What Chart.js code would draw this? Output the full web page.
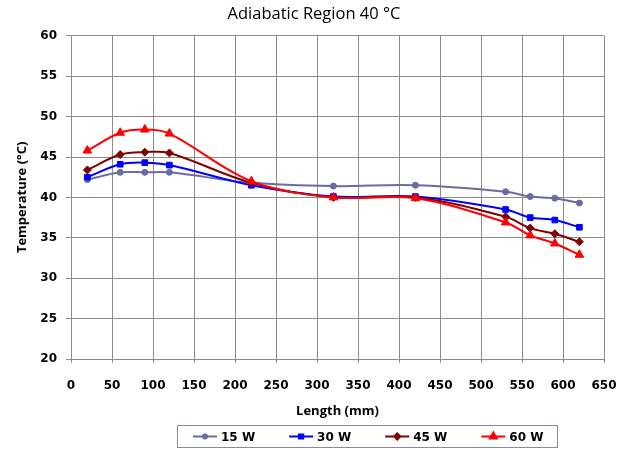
<!DOCTYPE html>
<html>
<head>
<meta charset="utf-8">
<script src="https://cdn.jsdelivr.net/npm/chart.js@4/dist/chart.umd.min.js"></script>
<style>
  html, body { margin: 0; padding: 0; background: #fff; }
  #wrap { width: 630px; height: 450px; }
</style>
</head>
<body>
<div id="wrap"><canvas id="tempChart" width="630" height="450"></canvas></div>
<script>
// positions along the heat pipe (mm)
const lengths = [20, 60, 90, 120, 220, 320, 420, 530, 560, 590, 620];

// temperature readings (°C) for each heater power
const temp15W = [42.2, 43.1, 43.1, 43.1, 41.8, 41.4, 41.5, 40.7, 40.1, 39.9, 39.3];
const temp30W = [42.5, 44.1, 44.3, 44.0, 41.5, 40.1, 40.1, 38.5, 37.5, 37.2, 36.3];
const temp45W = [43.4, 45.3, 45.6, 45.5, 41.8, 40.0, 40.0, 37.6, 36.2, 35.5, 34.5];
const temp60W = [45.8, 48.0, 48.4, 47.9, 42.0, 40.0, 39.9, 36.9, 35.3, 34.3, 32.9];

const seriesNames = ["15 W", "30 W", "45 W", "60 W"];

const TICK_FONT = "'DejaVu Sans', Verdana, sans-serif";
const TEXT_FONT = "'Open Sans', 'DejaVu Sans', sans-serif";

function pts(ys) {
  return lengths.map((x, i) => ({ x: x, y: ys[i] }));
}

const styles = [
  { color: "#6b6ba3", point: "circle", r: 3, order: 4 },
  { color: "#0000ff", point: "rect", r: 4, order: 3 },
  { color: "#800000", point: "rectRot", r: 4, order: 2 },
  { color: "#ff0000", point: "triangle", r: 5, order: 1 }
];
const allTemps = [temp15W, temp30W, temp45W, temp60W];

const datasets = allTemps.map((t, i) => ({
  label: seriesNames[i],
  data: pts(t),
  borderColor: styles[i].color,
  backgroundColor: styles[i].color,
  borderWidth: 2,
  pointStyle: styles[i].point,
  pointRadius: styles[i].r,
  pointBorderWidth: 1,
  tension: 0.35,
  order: styles[i].order
}));

// title sits centred over the plot rather than the whole canvas
const titleShift = {
  id: "titleShift",
  afterLayout(chart) {
    const t = chart.titleBlock;
    if (t) { t.left += 12; t.right += 12; }
  }
};

// boxed legend row under the axis title: line + marker, then the label
const boxedLegend = {
  id: "boxedLegend",
  afterDraw(chart) {
    const ctx = chart.ctx;
    const top = 425, bottom = 447, midY = 436.5;
    ctx.save();
    ctx.font = "bold 12px " + TICK_FONT;
    ctx.textBaseline = "middle";
    let x = 193;
    chart.data.datasets.forEach((ds, i) => {
      const st = styles[i];
      ctx.strokeStyle = st.color;
      ctx.fillStyle = st.color;
      ctx.lineWidth = 2;
      ctx.beginPath(); ctx.moveTo(x, midY); ctx.lineTo(x + 24, midY); ctx.stroke();
      Chart.helpers.drawPoint(ctx, { pointStyle: st.point, radius: st.r - 1, borderWidth: 1 }, x + 12, midY);
      ctx.fillStyle = "#000";
      ctx.fillText(ds.label, x + 28, midY + 1);
      x += 28 + ctx.measureText(ds.label).width + 34;
    });
    ctx.strokeStyle = "#8a8aa0";
    ctx.lineWidth = 1;
    ctx.strokeRect(177.5, top + 0.5, 380, bottom - top);
    ctx.restore();
  }
};

new Chart(document.getElementById("tempChart"), {
  type: "line",
  data: { datasets: datasets },
  options: {
    responsive: false,
    animation: false,
    layout: { padding: { left: 0, right: 26, top: 0, bottom: 29 } },
    plugins: {
      title: {
        display: true,
        text: "Adiabatic Region 40 °C",
        color: "#000",
        font: { family: TEXT_FONT, size: 16.5, weight: "normal", lineHeight: 1.2 },
        padding: { top: 4, bottom: 12 }
      },
      legend: { display: false },
      tooltip: { enabled: false }
    },
    scales: {
      x: {
        type: "linear",
        min: 0, max: 650,
        ticks: { stepSize: 50, color: "#000", font: { family: TICK_FONT, size: 12, weight: "bold" }, padding: 16 },
        grid: { color: "#8c8c8c", lineWidth: 1, tickLength: 4 },
        border: { color: "#8c8c8c" },
        title: { display: true, text: "Length (mm)", color: "#000", font: { family: TEXT_FONT, size: 13, weight: "bold" }, padding: { top: 4, bottom: 2 } },
        afterFit(s) { s.height = 62; s.paddingLeft = 0; s.paddingRight = 0; }
      },
      y: {
        min: 20, max: 60,
        ticks: { stepSize: 5, color: "#000", font: { family: TICK_FONT, size: 12, weight: "bold" }, padding: 9 },
        grid: { color: "#8c8c8c", lineWidth: 1, tickLength: 5 },
        border: { color: "#8c8c8c" },
        title: { display: true, text: "Temperature (°C)", color: "#000", font: { family: TEXT_FONT, size: 13, weight: "bold" }, padding: { top: 14, bottom: 4 } },
        afterFit(s) { s.width = 71; s.paddingTop = 0; s.paddingBottom = 0; }
      }
    }
  },
  plugins: [titleShift, boxedLegend]
});
</script>
</body>
</html>
